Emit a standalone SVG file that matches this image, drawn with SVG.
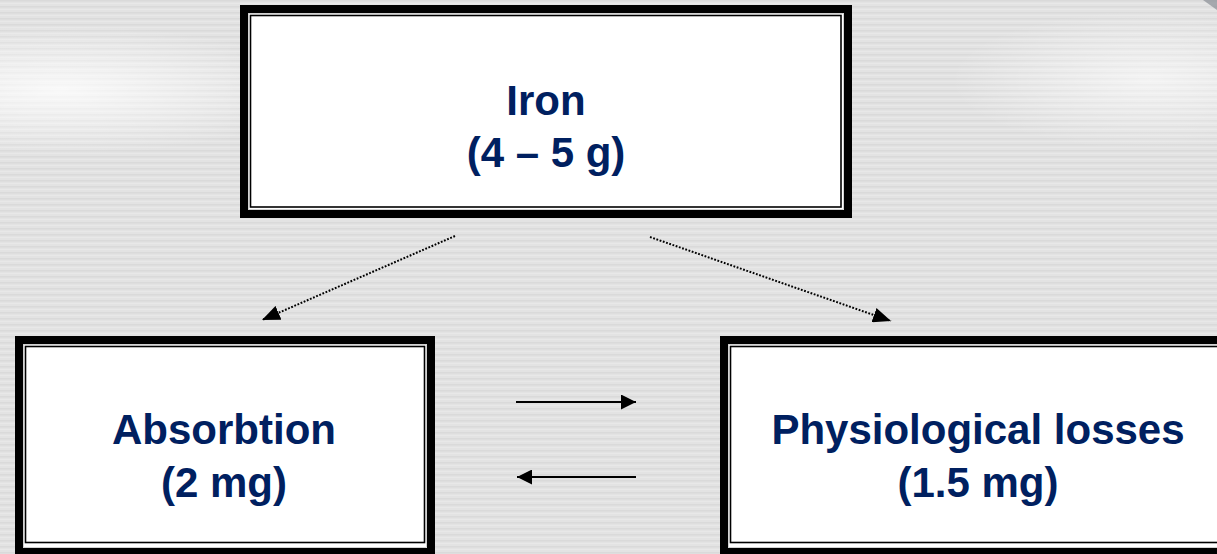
<svg xmlns="http://www.w3.org/2000/svg" width="1217" height="554" viewBox="0 0 1217 554">
<style>
.lbl{font-family:"Liberation Sans",Arial,sans-serif;font-weight:bold;font-size:42px;fill:#002060;text-anchor:middle}
.thick{fill:#ffffff;stroke:#000000;stroke-width:8}
.thin{fill:none;stroke:#000000;stroke-width:1.6}
.gap{fill:none;stroke:#c8c8c8;stroke-width:0.8}
.dot{stroke:#000000;stroke-width:2;stroke-dasharray:1.8 1.6;fill:none}
.solid{stroke:#000000;stroke-width:1.8;fill:none}
</style>
<defs>
<pattern id="stripes" width="8" height="6" patternUnits="userSpaceOnUse">
<rect width="8" height="6" fill="#e3e3e3"/>
<rect y="0" width="8" height="1.5" fill="#dadada"/>
<rect y="3" width="8" height="1" fill="#e8e8e8"/>
</pattern>
<radialGradient id="glowL" cx="60" cy="90" r="260" gradientUnits="userSpaceOnUse" gradientTransform="translate(60 90) scale(1 0.25) translate(-60 -90)">
<stop offset="0" stop-color="#ffffff" stop-opacity="0.8"/>
<stop offset="1" stop-color="#ffffff" stop-opacity="0"/>
</radialGradient>
<radialGradient id="glowR" cx="1150" cy="80" r="200" gradientUnits="userSpaceOnUse" gradientTransform="translate(1150 80) scale(1 0.35) translate(-1150 -80)">
<stop offset="0" stop-color="#ffffff" stop-opacity="0.6"/>
<stop offset="1" stop-color="#ffffff" stop-opacity="0"/>
</radialGradient>
<marker id="ah" markerWidth="19" markerHeight="15" refX="18" refY="7.5" orient="auto" markerUnits="userSpaceOnUse">
<path d="M0,0 L18,7.5 L0,15 Z" fill="#000000"/>
</marker>
<marker id="ah2" markerWidth="16" markerHeight="15" refX="15" refY="7.5" orient="auto" markerUnits="userSpaceOnUse">
<path d="M0,0 L15,7.5 L0,15 Z" fill="#000000"/>
</marker>
</defs>
<g id="background">
<rect width="1217" height="554" fill="url(#stripes)"/>
<rect width="1217" height="554" fill="url(#glowL)"/>
<rect width="1217" height="554" fill="url(#glowR)"/>
<path d="M1203,0 L1217,0 L1217,10 Z" fill="#8a8f96" opacity="0.7"/>
</g>
<g id="connectors">
<line class="dot" x1="455" y1="236" x2="262" y2="320" marker-end="url(#ah)"/>
<line class="dot" x1="650" y1="237" x2="891" y2="321" marker-end="url(#ah)"/>
<line class="solid" x1="516" y1="402" x2="636" y2="402" marker-end="url(#ah2)"/>
<line class="solid" x1="636" y1="477" x2="517" y2="477" marker-end="url(#ah2)"/>
</g>
<g id="node-iron">
<rect class="thick" x="244" y="9" width="604" height="205"/>
<rect class="gap" x="248.5" y="13.5" width="595" height="196"/>
<rect class="thin" x="250.5" y="15.5" width="590.5" height="191.5"/>
<text class="lbl" x="546" y="115">Iron</text>
<text class="lbl" x="546" y="167">(4 – 5 g)</text>
</g>
<g id="node-absorbtion">
<rect class="thick" x="19" y="340" width="412" height="212"/>
<rect class="gap" x="23.5" y="344.5" width="403" height="203"/>
<rect class="thin" x="25.5" y="346.5" width="399" height="196"/>
<text class="lbl" x="224" y="444">Absorbtion</text>
<text class="lbl" x="224" y="497">(2 mg)</text>
</g>
<g id="node-losses">
<rect class="thick" x="724" y="340" width="600" height="212"/>
<rect class="gap" x="728.5" y="344.5" width="590" height="203"/>
<rect class="thin" x="730.5" y="346.5" width="586" height="196"/>
<text class="lbl" x="978" y="444">Physiological losses</text>
<text class="lbl" x="978" y="497">(1.5 mg)</text>
</g>
</svg>
